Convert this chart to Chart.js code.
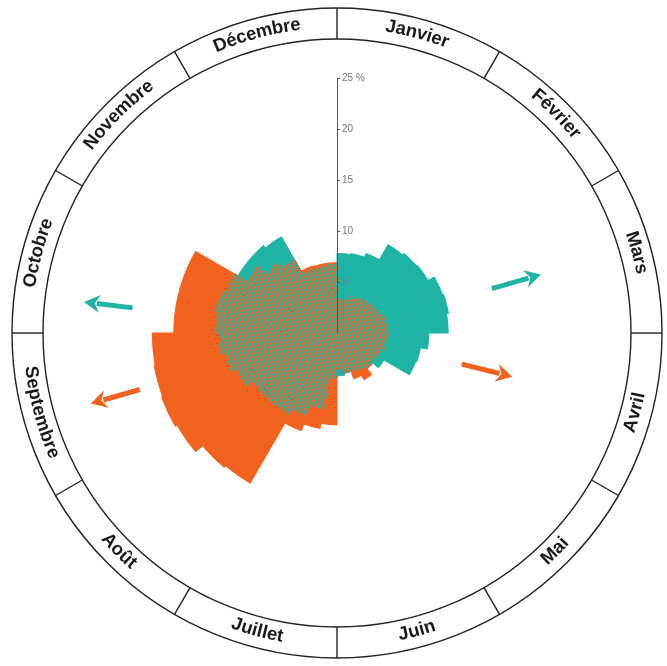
<!DOCTYPE html>
<html>
<head>
<meta charset="utf-8">
<script src="https://cdn.jsdelivr.net/npm/chart.js@4.4.1/dist/chart.umd.min.js"></script>
<style>
    html, body { margin: 0; padding: 0; background: #fff; }
    #wrap { width: 667px; height: 666px; position: relative; }
</style>
</head>
<body>
<div id="wrap"><canvas id="myChart"></canvas></div>
<script>
// months around the ring, 3 periods (décades) per month, starting at the top
const months = ['Janvier', 'Février', 'Mars', 'Avril', 'Mai', 'Juin',
    'Juillet', 'Août', 'Septembre', 'Octobre', 'Novembre', 'Décembre'];
const periods = months.flatMap(m => [m + ' 1', m + ' 2', m + ' 3']);

// share per period, in %
const tealValues = [
    7.8, 7.9, 8.3,   10.0, 10.2, 10.3,  11.0, 11.1, 10.9,
    9.0, 8.3, 8.2,   5.3, 4.4, 4.2,     4.0, 4.0, 4.2,
    4.4, 7.5, 8.6,   9.2, 9.3, 9.4,     10.3, 11.0, 11.5,
    11.8, 12.0, 11.5, 11.2, 11.2, 10.9, 6.6, 6.6, 6.7
];
const orangeValues = [
    3.3, 3.4, 3.8,   4.0, 4.2, 4.4,     4.6, 4.9, 5.0,
    5.0, 4.9, 4.6,   4.4, 4.6, 5.3,     4.8, 4.0, 3.6,
    9.0, 9.5, 10.2,  17.0, 17.2, 18.1,  18.3, 18.2, 18.1,
    16.0, 16.0, 16.0, 10.2, 9.0, 8.3,   7.0, 6.9, 6.9
];

const tickValues = [5, 10, 15, 20, 25];
const tickLabels = ['5', '10', '15', '20', '25 %'];

// arrows: [direction in degrees from top, start value, end value]
const tealArrows = [[74, 15.8, 20.8], [277, 20.2, 25]];
const orangeArrows = [[104, 12.6, 17.7], [254, 20.1, 25.1]];

const TEAL = '#1db3a5';
const ORANGE = '#f2621f';

document.addEventListener('DOMContentLoaded', () => {
    const ctx = document.getElementById('myChart').getContext('2d');

    // striped fill for the part where both series overlap
    const tile = document.createElement('canvas');
    tile.width = 10;
    tile.height = 10;
    const t = tile.getContext('2d');
    t.fillStyle = TEAL;
    t.fillRect(0, 0, 10, 10);
    t.fillStyle = ORANGE;
    t.fillRect(0, 0, 5, 10);
    const hatch = ctx.createPattern(tile, 'repeat');
    hatch.setTransform(new DOMMatrix().rotateSelf(27).scaleSelf(0.5, 0.5));

    const overlap = tealValues.map((v, i) => Math.min(v, orangeValues[i]));

    // border in the fill colour hides the seams between neighbouring sectors
    const data = {
        labels: periods,
        datasets: [
            { label: 'Both', data: overlap, backgroundColor: hatch, borderColor: hatch, borderWidth: 1 },
            { label: 'Teal', data: tealValues, backgroundColor: TEAL, borderColor: TEAL, borderWidth: 1 },
            { label: 'Orange', data: orangeValues, backgroundColor: ORANGE, borderColor: ORANGE, borderWidth: 1 }
        ]
    };

    const toXY = (cx, cy, deg, r) => {
        const a = (deg - 90) * Math.PI / 180;
        return [cx + r * Math.cos(a), cy + r * Math.sin(a)];
    };

    function drawArrow(c, scale, arrow, color) {
        const [deg, from, to] = arrow;
        const cx = scale.xCenter, cy = scale.yCenter;
        const r1 = scale.getDistanceFromCenterForValue(from);
        const r2 = scale.getDistanceFromCenterForValue(to);
        const head = 16;
        const [x1, y1] = toXY(cx, cy, deg, r1);
        const [x2, y2] = toXY(cx, cy, deg, r2 - head + 3);
        const [tx, ty] = toXY(cx, cy, deg, r2);
        const a = (deg - 90) * Math.PI / 180;
        const px = -Math.sin(a), py = Math.cos(a);
        const [bx, by] = toXY(cx, cy, deg, r2 - head);
        const [nx, ny] = toXY(cx, cy, deg, r2 - head + 5);
        c.save();
        c.strokeStyle = color;
        c.fillStyle = color;
        c.lineWidth = 5;
        c.beginPath();
        c.moveTo(x1, y1);
        c.lineTo(x2, y2);
        c.stroke();
        c.beginPath();
        c.moveTo(tx, ty);
        c.lineTo(bx + px * 9, by + py * 9);
        c.lineTo(nx, ny);
        c.lineTo(bx - px * 9, by - py * 9);
        c.closePath();
        c.fill();
        c.restore();
    }

    const ringPlugin = {
        id: 'ring',
        afterDraw(chart) {
            const c = chart.ctx;
            const scale = chart.scales.r;
            const cx = scale.xCenter, cy = scale.yCenter;
            const inner = 294, outer = 325;

            // month ring
            c.save();
            c.strokeStyle = '#222';
            c.lineWidth = 1.4;
            [inner, outer].forEach(r => {
                c.beginPath();
                c.arc(cx, cy, r, 0, Math.PI * 2);
                c.stroke();
            });
            months.forEach((m, i) => {
                const [x1, y1] = toXY(cx, cy, i * 30, inner);
                const [x2, y2] = toXY(cx, cy, i * 30, outer);
                c.beginPath();
                c.moveTo(x1, y1);
                c.lineTo(x2, y2);
                c.stroke();
            });

            // month names, bent along the ring
            c.fillStyle = '#1a1a1a';
            c.font = 'bold 18.5px "Liberation Sans", Arial, sans-serif';
            c.textAlign = 'center';
            c.textBaseline = 'middle';
            const R = (inner + outer) / 2 + 1;
            months.forEach((m, i) => {
                const mid = (i * 30 + 15) * Math.PI / 180;
                const top = (i * 30 + 15) < 90 || (i * 30 + 15) > 270;
                const total = c.measureText(m).width;
                let offset = 0;
                for (const ch of m) {
                    const w = c.measureText(ch).width;
                    const da = (offset + w / 2 - total / 2) / R;
                    c.save();
                    c.translate(cx, cy);
                    if (top) {
                        c.rotate(mid + da);
                        c.fillText(ch, 0, -R);
                    } else {
                        c.rotate(mid - da + Math.PI);
                        c.fillText(ch, 0, R - 2);
                    }
                    c.restore();
                    offset += w;
                }
            });
            c.restore();

            // vertical value axis
            c.save();
            const top = scale.getDistanceFromCenterForValue(25);
            c.strokeStyle = '#555';
            c.lineWidth = 1;
            c.beginPath();
            c.moveTo(cx + 0.5, cy);
            c.lineTo(cx + 0.5, cy - top);
            c.stroke();
            c.fillStyle = '#777';
            c.font = '10px "Liberation Sans", Arial, sans-serif';
            c.textAlign = 'left';
            c.textBaseline = 'middle';
            tickValues.forEach((v, i) => {
                const y = cy - scale.getDistanceFromCenterForValue(v);
                c.beginPath();
                c.moveTo(cx, y + 0.5);
                c.lineTo(cx + 3, y + 0.5);
                c.stroke();
                c.fillText(tickLabels[i], cx + 5, y);
            });
            c.restore();

            tealArrows.forEach(a => drawArrow(c, scale, a, TEAL));
            orangeArrows.forEach(a => drawArrow(c, scale, a, ORANGE));
        }
    };

    const options = {
        responsive: true,
        maintainAspectRatio: false,
        animation: false,
        layout: {
            padding: { left: 82, right: 75, top: 78, bottom: 78 }
        },
        plugins: {
            legend: { display: false },
            tooltip: { enabled: false }
        },
        scales: {
            r: {
                min: 0,
                max: 25,
                ticks: { display: false, showLabelBackdrop: false },
                grid: { display: false },
                angleLines: { display: false },
                pointLabels: { display: false }
            }
        }
    };

    new Chart(ctx, {
        type: 'polarArea',
        data: data,
        options: options,
        plugins: [ringPlugin]
    });
});
</script>
</body>
</html>
